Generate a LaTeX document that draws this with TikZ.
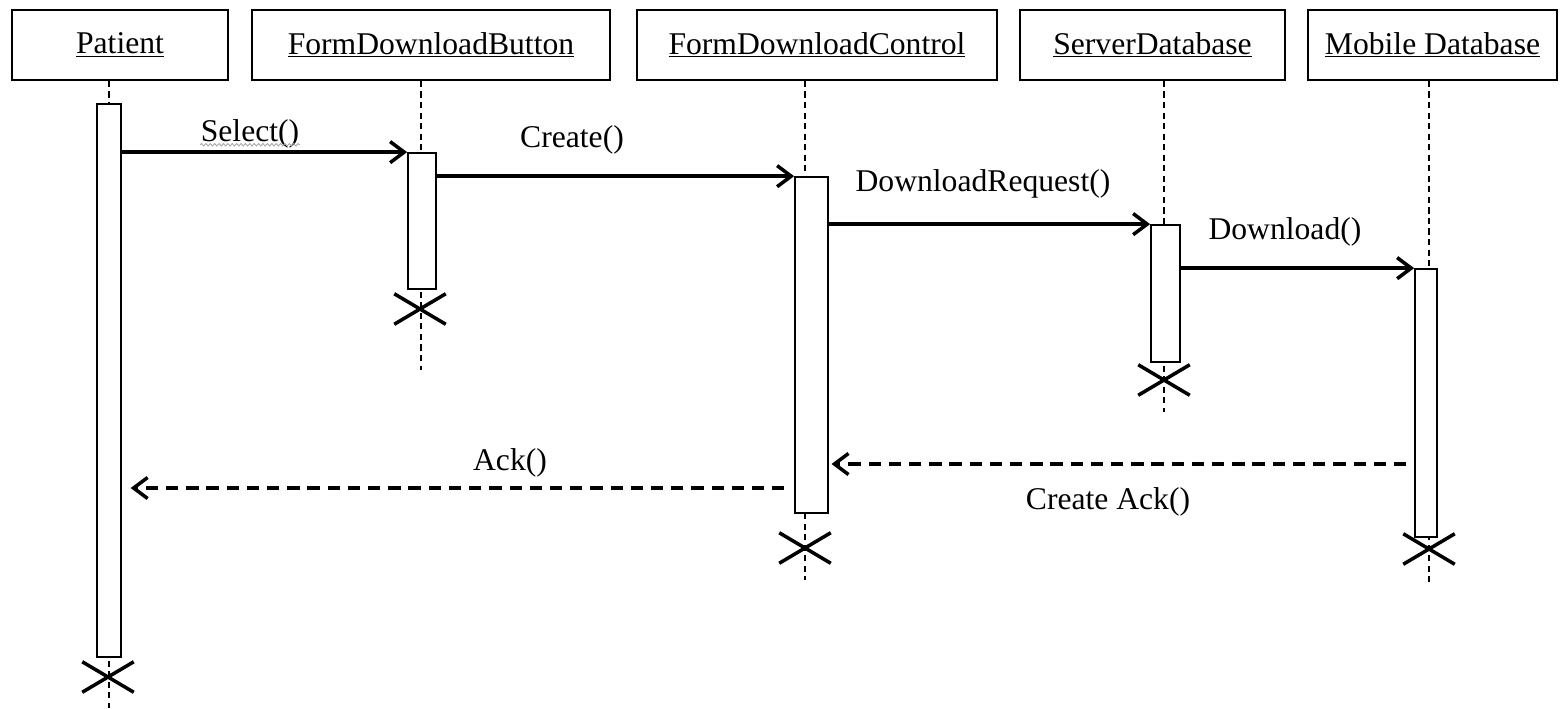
\documentclass[tikz,border=0pt]{standalone}
\usepackage{fontspec}
\setmainfont{Liberation Serif}
\usetikzlibrary{arrows.meta, shapes.misc, decorations.pathmorphing}

\begin{document}
\begin{tikzpicture}[x=0.02cm, y=-0.02cm, thick,
    font=\fontsize{18}{21}\selectfont,
    head/.style={draw, line width=1pt, minimum height=1.4cm, inner sep=0pt},
    act/.style={draw, fill=white, line width=1pt, inner sep=0pt},
    life/.style={line width=0.6pt, dash pattern=on 3.5pt off 2.5pt},
    kill/.style={cross out, draw, line width=2pt, minimum width=0.96cm, minimum height=0.54cm, inner sep=0pt},
    msg/.style={line width=2pt, -{Straight Barb[length=8pt, width=12pt]}},
    reply/.style={msg, dash pattern=on 7pt off 4.5pt},
    lbl/.style={inner sep=0pt}]
    \useasboundingbox (0,0) rectangle (1560,708);

    \node[head, minimum width=4.32cm] at (120,45) (head1) {\underline{Patient}};
    \node[head, minimum width=7.16cm] at (431,45) (head2) {\underline{FormDownloadButton}};
    \node[head, minimum width=7.2cm] at (817,45) (head3) {\underline{FormDownloadControl}};
    \node[head, minimum width=5.3cm] at (1152.5,45) (head4) {\underline{ServerDatabase}};
    \node[head, minimum width=4.98cm] at (1432.5,45) (head5) {\underline{Mobile Database}};

    \coordinate (end1) at (109,708);
    \coordinate (end2) at (421,370);
    \coordinate (end3) at (805,580);
    \coordinate (end4) at (1164,412);
    \coordinate (end5) at (1429,582);
    \foreach \i in {1,...,5}
        \draw[life] (head\i.south -| end\i) -- (end\i);

    \node[act, minimum width=0.48cm, minimum height=11.06cm] at (109,380.5) (act1) {};
    \node[act, minimum width=0.56cm, minimum height=2.72cm] at (422,221) (act2) {};
    \node[act, minimum width=0.66cm, minimum height=6.72cm] at (811.5,345) (act3) {};
    \node[act, minimum width=0.58cm, minimum height=2.74cm] at (1165.5,293.5) (act4) {};
    \node[act, minimum width=0.44cm, minimum height=5.36cm] at (1426,403) (act5) {};

    \node[kill] at (108,677) (x1) {};
    \node[kill] at (420,309) (x2) {};
    \node[kill] at (805,548) (x3) {};
    \node[kill] at (1164,380) (x4) {};
    \node[kill] at (1429,549) (x5) {};

    \node[lbl] at (250,134) (lSelect) {Select()};
    \node[lbl] at (572,140) (lCreate) {Create()};
    \node[lbl] at (983,184) (lRequest) {DownloadRequest()};
    \node[lbl] at (1285,232) (lDownload) {Download()};
    \node[lbl] at (510,463) (lAck) {Ack()};
    \node[lbl] at (1108,502) (lCreateAck) {Create Ack()};
    \draw[gray!70, line width=0.5pt, decorate, decoration={snake, amplitude=0.7pt, segment length=2.5pt}]
        ([yshift=-1.8pt]lSelect.base west) -- ([yshift=-1.8pt]lSelect.base east);

    \draw[msg] (act1.east |- act2.north) -- (act2.north west);
    \draw[msg] (act2.east |- act3.north) -- (act3.north west);
    \draw[msg] (act3.east |- act4.north) -- (act4.north west);
    \draw[msg] (act4.east |- act5.north) -- (act5.north west);
    \draw[reply, shorten <=4.5pt, shorten >=1.5pt] (act5.west |- 0,464) -- (act3.east |- 0,464);
    \draw[reply, shorten <=5.5pt, shorten >=5pt] (act3.west |- 0,488) -- (act1.east |- 0,488);

\end{tikzpicture}
\end{document}
